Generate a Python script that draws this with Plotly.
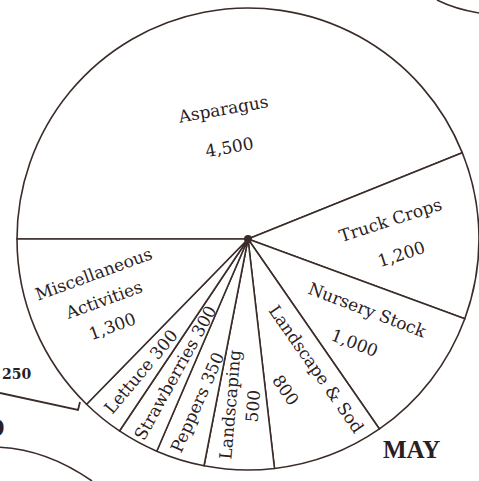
import math
import plotly.graph_objects as go

# ---- data ----
categories = ["Asparagus", "Truck Crops", "Nursery Stock", "Landscape & Sod",
              "Landscaping", "Peppers", "Strawberries", "Lettuce",
              "Miscellaneous Activities"]
values = [4500, 1200, 1000, 800, 500, 350, 300, 300, 1300]
label_lines = [
    ["Asparagus", "4,500"],
    ["Truck Crops", "1,200"],
    ["Nursery Stock", "1,000"],
    ["Landscape & Sod", "800"],
    ["Landscaping", "500"],
    ["Peppers 350"],
    ["Strawberries 300"],
    ["Lettuce 300"],
    ["Miscellaneous", "Activities", "1,300"],
]
month_label = "MAY"

# ---- style / layout (not data) ----
W, H = 479, 481
CX, CY, R = 248, 239, 231          # pie centre & radius in pixels
INK = "#2a201e"
LINE = "#3a2c28"
FONT = "DejaVu Serif"
FS = 17
# per label: radial fraction, text angle (deg, clockwise), line spacing px
label_style = [
    (0.49, -10, 38),
    (0.64, -18, 36),
    (0.62, 21, 36),
    (0.65, 55, 38),
    (0.72, -85, 23),
    (0.74, -66, 0),
    (0.66, -61, 0),
    (0.74, -50, 0),
    (0.68, -20, 28),
]
ROTATION = -90  # first slice starts at 9 o'clock

fig = go.Figure(go.Pie(
    labels=categories, values=values, sort=False, direction="clockwise",
    rotation=ROTATION, textinfo="none", hoverinfo="none", showlegend=False,
    marker=dict(colors=["white"] * len(values), line=dict(color=LINE, width=1.6)),
    domain=dict(x=[(CX - R) / W, (CX + R) / W],
                y=[(H - CY - R) / H, (H - CY + R) / H]),
))

# label positions derived from the slice angles of the data
total = sum(values)
start = 90 - ROTATION  # math angle (ccw from east) of the first slice edge
cum = 0.0
annotations = []
for v, lines, (frac, tang, spacing) in zip(values, label_lines, label_style):
    mid = start - (cum + v / 2) / total * 360.0
    cum += v
    a = math.radians(mid)
    bx = CX + frac * R * math.cos(a)
    by = CY - frac * R * math.sin(a)
    t = math.radians(tang)
    down = (-math.sin(t), math.cos(t))
    n = len(lines)
    for i, txt in enumerate(lines):
        k = i - (n - 1) / 2
        px = bx + k * spacing * down[0]
        py = by + k * spacing * down[1]
        annotations.append(dict(
            x=px / W, y=1 - py / H, xref="paper", yref="paper", text=txt,
            showarrow=False, textangle=tang, xanchor="center", yanchor="middle",
            font=dict(family=FONT, size=FS, color=INK)))

annotations.append(dict(x=411 / W, y=1 - 449 / H, xref="paper", yref="paper",
                        text="<b>" + month_label + "</b>", showarrow=False,
                        xanchor="center", yanchor="middle",
                        font=dict(family="Liberation Serif", size=25, color=INK)))
# fragments of neighbouring charts at the page edges
annotations.append(dict(x=0, y=1 - 374 / H, xref="paper", yref="paper",
                        text="<b>250</b>", showarrow=False, xanchor="left",
                        yanchor="middle",
                        font=dict(family=FONT, size=14, color=INK)))
annotations.append(dict(x=7 / W, y=1 - 427 / H, xref="paper", yref="paper",
                        text="<b>D</b>", showarrow=False, xanchor="right",
                        yanchor="middle",
                        font=dict(family="Liberation Serif", size=26, color=INK)))

shapes = [
    dict(type="path", xref="paper", yref="paper",
         path=f"M 0 {1-393/H} L {78/W} {1-410/H} L {80/W} {1-402/H}",
         line=dict(color=LINE, width=1.8)),
    dict(type="path", xref="paper", yref="paper",
         path=f"M {-5/W} {1-447/H} Q {45/W} {1-448/H} {92/W} {1-481/H}",
         line=dict(color=LINE, width=1.6)),
    dict(type="path", xref="paper", yref="paper",
         path=f"M {437/W} {1} Q {455/W} {1-9/H} {1} {1-13/H}",
         line=dict(color=LINE, width=1.6)),
    dict(type="circle", xref="paper", yref="paper",
         x0=(CX - 4) / W, x1=(CX + 4) / W, y0=1 - (CY + 4) / H, y1=1 - (CY - 4) / H,
         fillcolor=LINE, line=dict(width=0)),
]

fig.update_layout(width=W, height=H, margin=dict(l=0, r=0, t=0, b=0),
                  paper_bgcolor="white", plot_bgcolor="white",
                  annotations=annotations, shapes=shapes)
fig.write_html("out.html", config={"displayModeBar": False},
               post_script="document.body.style.margin='0';"
                           "document.body.style.overflow='hidden';")
